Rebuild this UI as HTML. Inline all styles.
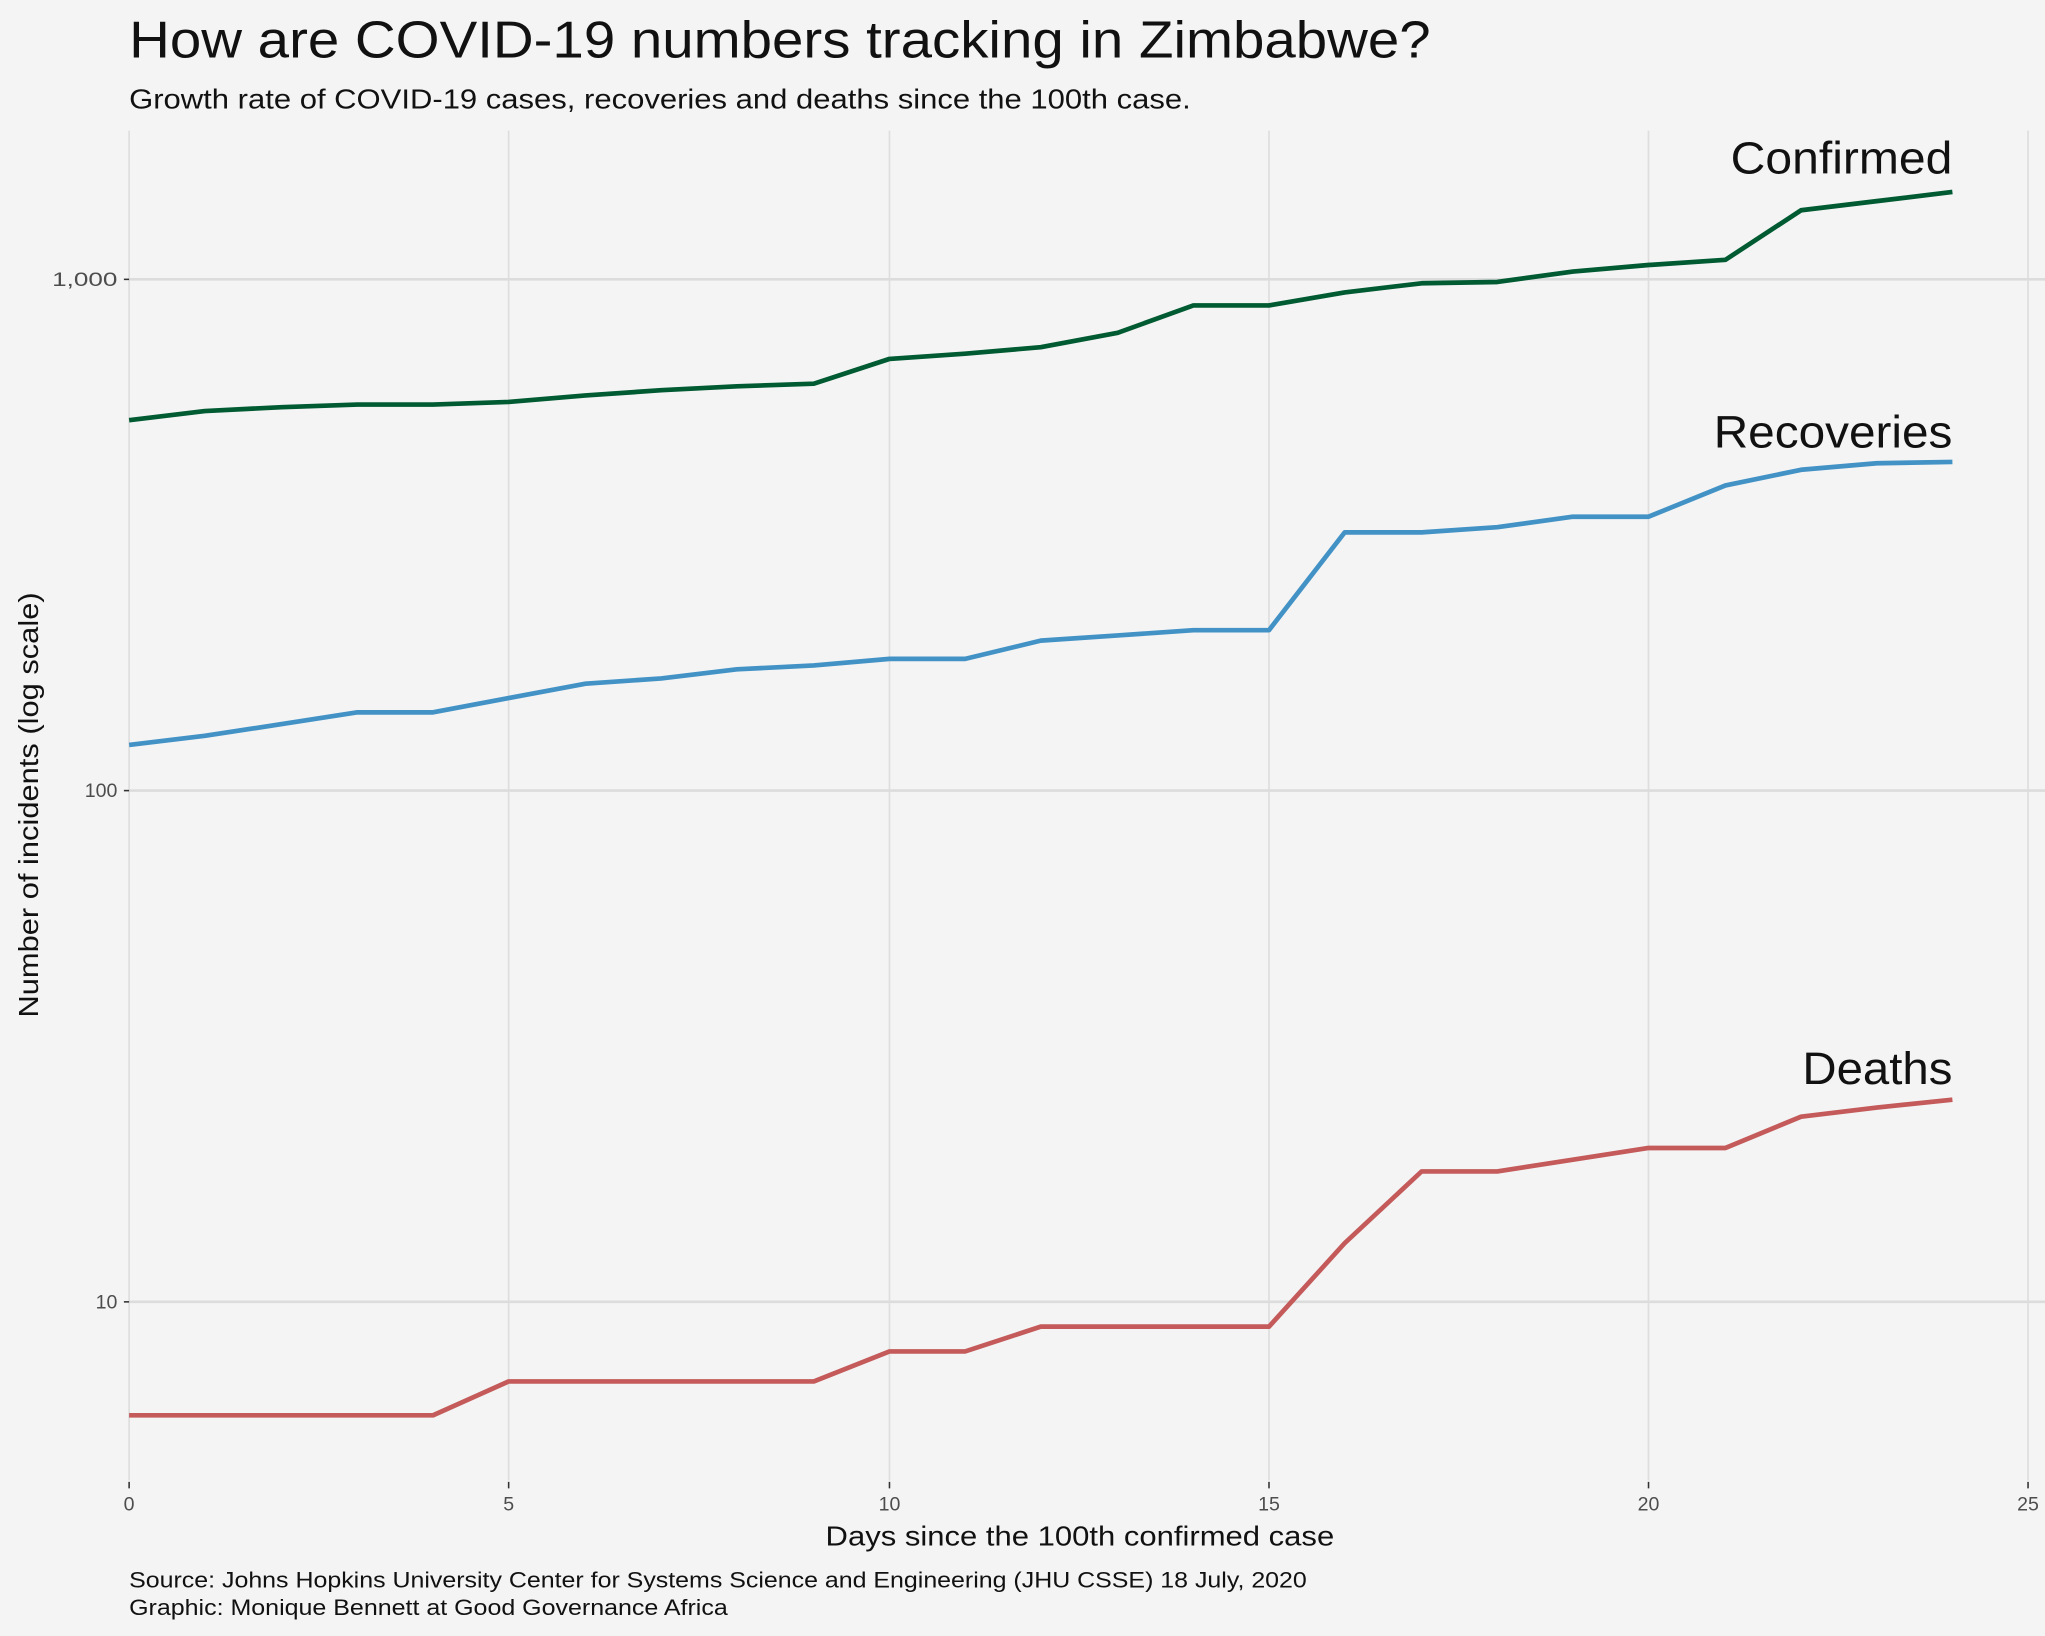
<!DOCTYPE html>
<html><head><meta charset="utf-8"><style>html,body{margin:0;padding:0;background:#f4f4f4}svg{display:block}</style></head>
<body>
<svg width="2045" height="1636" viewBox="0 0 1568 1254" xmlns="http://www.w3.org/2000/svg" font-family="Liberation Sans, sans-serif">
<rect width="1568" height="1254" fill="#f4f4f4"/>
<g stroke="#dedede" stroke-width="1.3">
<line x1="99" y1="100" x2="99" y2="1135"/><line x1="390" y1="100" x2="390" y2="1135"/><line x1="682" y1="100" x2="682" y2="1135"/><line x1="973" y1="100" x2="973" y2="1135"/><line x1="1264" y1="100" x2="1264" y2="1135"/><line x1="1555" y1="100" x2="1555" y2="1135"/>
</g>
<g stroke="#dcdcdc" stroke-width="2">
<line x1="99" y1="214" x2="1568" y2="214"/><line x1="99" y1="606" x2="1568" y2="606"/><line x1="99" y1="998" x2="1568" y2="998"/>
</g>
<g stroke="#333" stroke-width="1.2">
<line x1="95" y1="214" x2="99" y2="214"/><line x1="95" y1="606" x2="99" y2="606"/><line x1="95" y1="998" x2="99" y2="998"/>
<line x1="99" y1="1136" x2="99" y2="1141"/><line x1="390" y1="1136" x2="390" y2="1141"/><line x1="682" y1="1136" x2="682" y2="1141"/><line x1="973" y1="1136" x2="973" y2="1141"/><line x1="1264" y1="1136" x2="1264" y2="1141"/><line x1="1555" y1="1136" x2="1555" y2="1141"/>
</g>
<g font-size="15" fill="#4d4d4d" text-anchor="end">
<text x="90" y="219" textLength="50" lengthAdjust="spacingAndGlyphs">1,000</text><text x="90" y="611">100</text><text x="90" y="1003">10</text>
</g>
<g font-size="15" fill="#4d4d4d" text-anchor="middle">
<text x="99" y="1158">0</text><text x="390" y="1158">5</text><text x="682" y="1158">10</text><text x="973" y="1158">15</text><text x="1264" y="1158">20</text><text x="1555" y="1158">25</text>
</g>
<text x="633" y="1185" font-size="21" fill="#111" textLength="390" lengthAdjust="spacingAndGlyphs">Days since the 100th confirmed case</text>
<text transform="translate(29,617) rotate(-90)" font-size="21" text-anchor="middle" fill="#111" textLength="326" lengthAdjust="spacingAndGlyphs">Number of incidents (log scale)</text>
<text x="99" y="44" font-size="40" fill="#111" textLength="998" lengthAdjust="spacingAndGlyphs">How are COVID-19 numbers tracking in Zimbabwe?</text>
<text x="99" y="83" font-size="21" fill="#111" textLength="814" lengthAdjust="spacingAndGlyphs">Growth rate of COVID-19 cases, recoveries and deaths since the 100th case.</text>
<text x="99" y="1217" font-size="17" fill="#111" textLength="903" lengthAdjust="spacingAndGlyphs">Source: Johns Hopkins University Center for Systems Science and Engineering (JHU CSSE) 18 July, 2020</text>
<text x="99" y="1238" font-size="17" fill="#111" textLength="459" lengthAdjust="spacingAndGlyphs">Graphic: Monique Bennett at Good Governance Africa</text>
<g fill="none" stroke-width="3.6" stroke-linejoin="round">
<polyline stroke="#005a32" points="99,322 157,315 216,312 274,310 332,310 390,308 449,303 507,299 565,296 624,294 682,275 740,271 798,266 857,255 915,234 973,234 1031,224 1090,217 1148,216 1206,208 1264,203 1323,199 1381,161 1439,154 1497,147"/>
<polyline stroke="#4292c6" points="99,571 157,564 216,555 274,546 332,546 390,535 449,524 507,520 565,513 624,510 682,505 740,505 798,491 857,487 915,483 973,483 1031,408 1090,408 1148,404 1206,396 1264,396 1323,372 1381,360 1439,355 1497,354"/>
<polyline stroke="#c45a5a" points="99,1085 157,1085 216,1085 274,1085 332,1085 390,1059 449,1059 507,1059 565,1059 624,1059 682,1036 740,1036 798,1017 857,1017 915,1017 973,1017 1031,953 1090,898 1148,898 1206,889 1264,880 1323,880 1381,856 1439,849 1497,843"/>
</g>
<g font-size="35" fill="#111">
<text x="1327" y="133" textLength="170" lengthAdjust="spacingAndGlyphs">Confirmed</text><text x="1314" y="343" textLength="183" lengthAdjust="spacingAndGlyphs">Recoveries</text><text x="1382" y="831" textLength="115" lengthAdjust="spacingAndGlyphs">Deaths</text>
</g>
</svg>
</body></html>
